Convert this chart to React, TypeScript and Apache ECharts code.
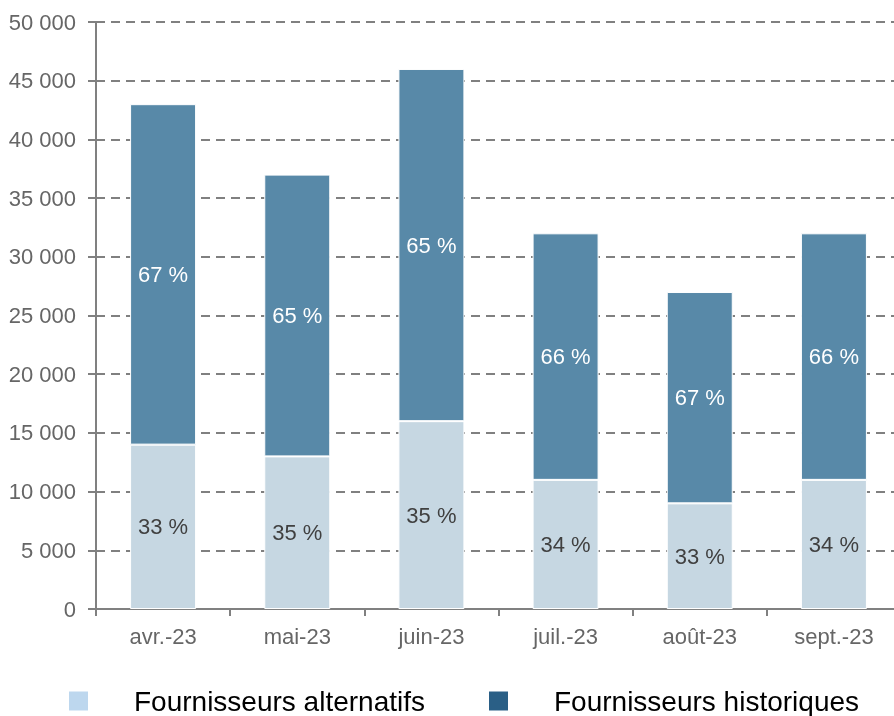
import React, { useEffect, useRef } from "react";
import * as echarts from "echarts";

const categories = ["avr.-23", "mai-23", "juin-23", "juil.-23", "août-23", "sept.-23"];
const alternatifs = [14000, 13000, 16000, 11000, 9000, 11000];
const historiques = [29000, 24000, 30000, 21000, 18000, 21000];
const pctAlternatifs = ["33 %", "35 %", "35 %", "34 %", "33 %", "34 %"];
const pctHistoriques = ["67 %", "65 %", "65 %", "66 %", "67 %", "66 %"];
const seriesNames = ["Fournisseurs alternatifs", "Fournisseurs historiques"];

const FONT = "'Liberation Sans', Arial, sans-serif";

export default function App() {
  const ref = useRef<HTMLDivElement>(null);
  useEffect(() => {
    if (!ref.current) return;
    const chart = echarts.init(ref.current, undefined, { renderer: "svg" });
    const legendText = { fontFamily: FONT, fontSize: 28, lineHeight: 28, color: "#000", padding: [0, 0, 0, 40] };
    chart.setOption({
      animation: false,
      grid: { left: 96, right: 0, top: 22, bottom: 107, containLabel: false },
      legend: [
        {
          left: 67,
          top: 687,
          padding: 0,
          itemWidth: 21,
          itemHeight: 21,
          icon: "rect",
          selectedMode: false,
          data: [{ name: seriesNames[0], itemStyle: { color: "#bdd7ee" } }],
          textStyle: legendText,
        },
        {
          left: 487,
          top: 687,
          padding: 0,
          itemWidth: 21,
          itemHeight: 21,
          icon: "rect",
          selectedMode: false,
          data: [{ name: seriesNames[1], itemStyle: { color: "#2a5f86" } }],
          textStyle: legendText,
        },
      ],
      xAxis: {
        type: "category",
        data: categories,
        axisLine: { show: true, lineStyle: { color: "#808080", width: 2 } },
        axisTick: { show: true, length: 7, lineStyle: { color: "#808080", width: 2 } },
        axisLabel: { color: "#666666", fontFamily: FONT, fontSize: 22, margin: 16 },
      },
      yAxis: {
        type: "value",
        min: 0,
        max: 50000,
        interval: 5000,
        axisLine: { show: true, lineStyle: { color: "#808080", width: 2 } },
        axisTick: { show: true, length: 8, lineStyle: { color: "#808080", width: 2 } },
        axisLabel: {
          color: "#666666",
          fontFamily: FONT,
          fontSize: 22,
          margin: 20,
          formatter: (v: number) => (v >= 1000 ? `${Math.floor(v / 1000)} ${String(v % 1000).padStart(3, "0")}` : String(v)),
        },
        splitLine: { show: true, lineStyle: { color: "#808080", width: 2, type: [9, 6] } },
      },
      series: [
        {
          name: seriesNames[0],
          type: "bar",
          stack: "total",
          barWidth: 66,
          data: alternatifs,
          itemStyle: { color: "#c6d7e2", borderColor: "#ffffff", borderWidth: 1 },
          label: {
            show: true,
            position: "inside",
            color: "#404040",
            fontFamily: FONT,
            fontSize: 22,
            formatter: (p: any) => pctAlternatifs[p.dataIndex],
          },
        },
        {
          name: seriesNames[1],
          type: "bar",
          stack: "total",
          barWidth: 66,
          data: historiques,
          itemStyle: { color: "#5889a8", borderColor: "#ffffff", borderWidth: 1 },
          label: {
            show: true,
            position: "inside",
            color: "#ffffff",
            fontFamily: FONT,
            fontSize: 22,
            formatter: (p: any) => pctHistoriques[p.dataIndex],
          },
        },
      ],
    });
    return () => chart.dispose();
  }, []);
  return (
    <div style={{ position: "fixed", left: 0, top: 0, width: 894, height: 716, overflow: "hidden" }}>
      <div ref={ref} style={{ width: 901, height: 716 }} />
    </div>
  );
}
